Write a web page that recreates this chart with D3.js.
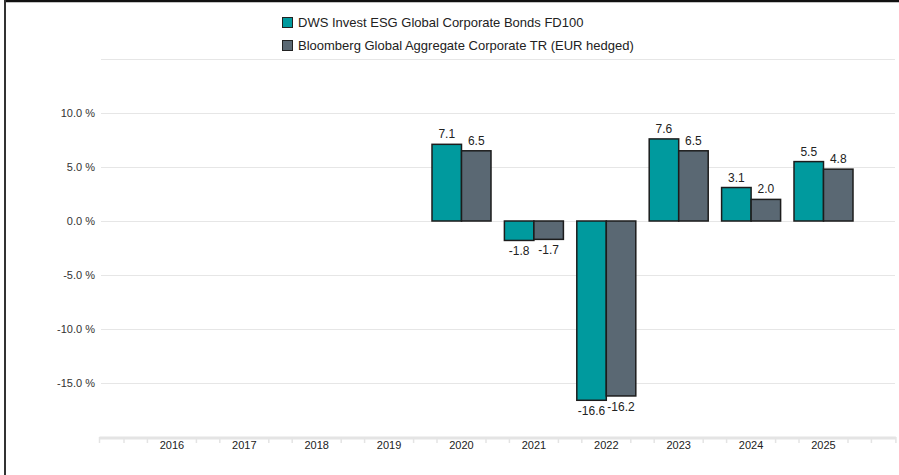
<!DOCTYPE html>
<html>
<head>
<meta charset="utf-8">
<script src="https://cdn.jsdelivr.net/npm/d3@7"></script>
<style>
  html, body { margin: 0; padding: 0; background: #fff; }
  svg { display: block; font-family: "Liberation Sans", Arial, sans-serif; }
</style>
</head>
<body>
<div id="chart"></div>
<script>
// Chart data
const years = ["2016", "2017", "2018", "2019", "2020", "2021", "2022", "2023", "2024", "2025"];
const fundValues = [null, null, null, null, 7.1, -1.8, -16.6, 7.6, 3.1, 5.5];
const benchValues = [null, null, null, null, 6.5, -1.7, -16.2, 6.5, 2.0, 4.8];
const seriesNames = ["DWS Invest ESG Global Corporate Bonds FD100", "Bloomberg Global Aggregate Corporate TR (EUR hedged)"];
const yTicks = [-15, -10, -5, 0, 5, 10];
const gridTicks = [-15, -10, -5, 0, 5, 10, 15];

const width = 899,
    height = 475;

const colors = ["#009a9e", "#5a6873"];

const svg = d3.select("#chart")
    .append("svg")
    .attr("width", width)
    .attr("height", height);

// Frame lines (top and left)
svg.append("line")
    .attr("x1", 4).attr("x2", width)
    .attr("y1", 1).attr("y2", 1)
    .attr("stroke", "#111").attr("stroke-width", 2.5);
svg.append("line")
    .attr("x1", 5).attr("x2", 5)
    .attr("y1", 0).attr("y2", height)
    .attr("stroke", "#333").attr("stroke-width", 2);

// Scales
const x = d3.scaleBand()
    .domain(years)
    .range([135.7, 859.7]);

const step = x.step();
const axisLeft = x.range()[0] - step / 2,
    axisRight = x.range()[1] + step / 2;

const xInner = d3.scaleBand()
    .domain([0, 1])
    .range([-29.5, 29.5]);

const y = d3.scaleLinear()
    .domain([-20, 15])
    .range([437, 59]);

// Gridlines
svg.append("g")
    .selectAll("line")
    .data(gridTicks)
    .join("line")
    .attr("x1", 101)
    .attr("x2", 895)
    .attr("y1", d => y(d) + 0.5)
    .attr("y2", d => y(d) + 0.5)
    .attr("stroke", "#e6e6e6")
    .attr("stroke-width", 1);

// Y labels
svg.append("g")
    .selectAll("text")
    .data(yTicks)
    .join("text")
    .attr("x", 95)
    .attr("y", d => y(d) + 4)
    .attr("text-anchor", "end")
    .attr("font-size", "11px")
    .attr("fill", "#333")
    .text(d => d.toFixed(1) + " %");

// X axis line and ticks
svg.append("line")
    .attr("x1", axisLeft)
    .attr("x2", axisRight)
    .attr("y1", y(-20) + 1)
    .attr("y2", y(-20) + 1)
    .attr("stroke", "#e4e4e4")
    .attr("stroke-width", 3);

// ticks sit half a bar-group either side of each category (incl. the padding slots)
const tickXs = [axisLeft, axisRight];
d3.range(-1, years.length + 1).forEach(i => {
    const c = x.range()[0] + step * (i + 0.5);
    [c - 24.5, c + 24.5].forEach(t => {
        if (t > axisLeft + 2 && t < axisRight - 2) tickXs.push(t);
    });
});

svg.append("g")
    .selectAll("line")
    .data(tickXs)
    .join("line")
    .attr("x1", d => d)
    .attr("x2", d => d)
    .attr("y1", y(-20))
    .attr("y2", y(-20) + 6)
    .attr("stroke", "#e4e4e4")
    .attr("stroke-width", 1.5);

svg.append("g")
    .selectAll("text")
    .data(years)
    .join("text")
    .attr("x", d => x(d) + step / 2)
    .attr("y", y(-20) + 12)
    .attr("text-anchor", "middle")
    .attr("font-size", "11px")
    .attr("fill", "#222")
    .text(d => d);

// Bars
const series = [fundValues, benchValues];
series.forEach((vals, s) => {
    const pts = years.map((yr, i) => ({ year: yr, value: vals[i] }))
        .filter(d => d.value !== null);

    const g = svg.append("g");
    g.selectAll("rect")
        .data(pts)
        .join("rect")
        .attr("x", d => x(d.year) + step / 2 + xInner(s))
        .attr("width", xInner.bandwidth())
        .attr("y", d => y(Math.max(0, d.value)))
        .attr("height", d => Math.abs(y(d.value) - y(0)))
        .attr("fill", colors[s])
        .attr("stroke", "#1c1c1c")
        .attr("stroke-width", 1.5);

    g.selectAll("text")
        .data(pts)
        .join("text")
        .attr("x", d => x(d.year) + step / 2 + xInner(s) + xInner.bandwidth() / 2)
        .attr("y", d => d.value >= 0 ? y(d.value) - 6 : y(d.value) + 15)
        .attr("text-anchor", "middle")
        .attr("font-size", "12px")
        .attr("fill", "#222")
        .text(d => d.value.toFixed(1));
});

// Legend
const legend = svg.append("g")
    .attr("transform", "translate(282, 17)");

seriesNames.forEach((name, i) => {
    legend.append("rect")
        .attr("x", 0.5)
        .attr("y", i * 23 + 0.5)
        .attr("width", 10)
        .attr("height", 10)
        .attr("fill", colors[i])
        .attr("stroke", "#222")
        .attr("stroke-width", 1);

    legend.append("text")
        .attr("x", 16)
        .attr("y", i * 23 + 10)
        .attr("font-size", "13px")
        .attr("fill", "#222")
        .text(name);
});
</script>
</body>
</html>
